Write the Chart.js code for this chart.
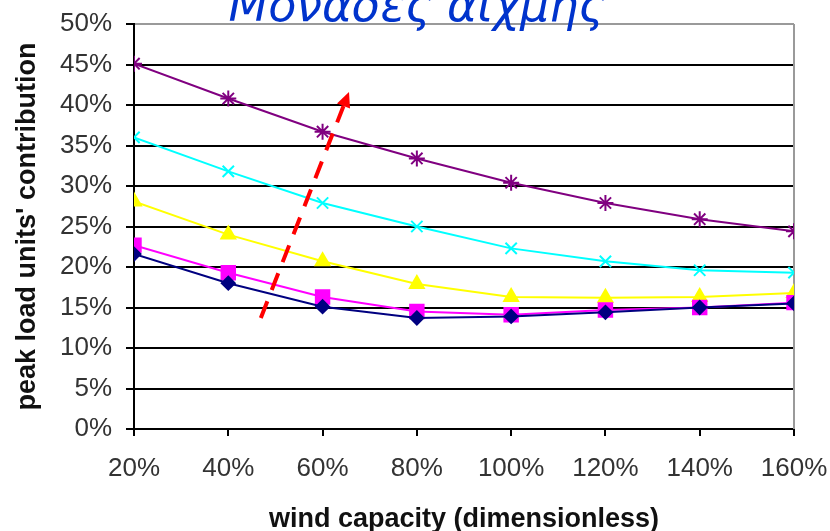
<!DOCTYPE html>
<html>
<head>
<meta charset="utf-8">
<script src="https://cdn.jsdelivr.net/npm/chart.js@4.4.1/dist/chart.umd.min.js"></script>
<style>
  body { margin: 0; background: #fff; }
  #wrap { width: 830px; height: 531px; }
</style>
</head>
<body>
<div id="wrap"><canvas id="peak" width="830" height="531"></canvas></div>
<script>
// wind capacity (% of ...), x axis
const windCapacity = [20, 40, 60, 80, 100, 120, 140, 160];

// peak load units' contribution (%), one array per curve
const seriesNavy = [21.6, 18.0, 15.1, 13.7, 13.9, 14.4, 15.0, 15.5];
const seriesMagenta = [22.7, 19.3, 16.3, 14.5, 14.1, 14.7, 15.0, 15.6];
const seriesYellow = [28.1, 24.0, 20.7, 17.9, 16.3, 16.2, 16.3, 16.8];
const seriesCyan = [36.0, 31.8, 27.9, 25.0, 22.3, 20.7, 19.6, 19.3];
const seriesPurple = [45.1, 40.8, 36.7, 33.4, 30.4, 27.9, 25.9, 24.4];

// red dashed arrow, in data units [wind %, contribution %]
const arrowFrom = [46.9, 13.7];
const arrowTo = [65.6, 41.6];

const titleText = "Μονάδες αιχμής";

function pts(values) {
  return windCapacity.map((x, i) => ({ x: x, y: values[i] }));
}

function line(label, values, color, style, radius) {
  return {
    label: label,
    data: pts(values),
    borderColor: color,
    backgroundColor: color,
    borderWidth: 2,
    pointStyle: style,
    pointRadius: radius,
    pointBorderColor: color,
    pointBackgroundColor: color,
    pointBorderWidth: 2,
    tension: 0,
  };
}

const frame = {
  id: "frame",
  beforeDatasetsDraw(chart) {
    const { ctx, chartArea } = chart;
    ctx.save();
    ctx.strokeStyle = "#9a9a9a";
    ctx.lineWidth = 2;
    ctx.beginPath();
    ctx.moveTo(chartArea.right, chartArea.top);
    ctx.lineTo(chartArea.right, chartArea.bottom);
    ctx.stroke();
    ctx.restore();
  },
  afterDatasetsDraw(chart) {
    const { ctx } = chart;
    const xs = chart.scales.x, ys = chart.scales.y;
    const x0 = xs.getPixelForValue(arrowFrom[0]), y0 = ys.getPixelForValue(arrowFrom[1]);
    const x1 = xs.getPixelForValue(arrowTo[0]), y1 = ys.getPixelForValue(arrowTo[1]);
    const ang = Math.atan2(y1 - y0, x1 - x0);
    const head = 15;
    const bx = x1 - Math.cos(ang) * head, by = y1 - Math.sin(ang) * head;
    ctx.save();
    ctx.strokeStyle = "#ff0000";
    ctx.fillStyle = "#ff0000";
    ctx.lineWidth = 4;
    ctx.setLineDash([18, 12]);
    ctx.beginPath();
    ctx.moveTo(x0, y0);
    ctx.lineTo(bx, by);
    ctx.stroke();
    ctx.setLineDash([]);
    ctx.beginPath();
    ctx.moveTo(x1, y1);
    ctx.lineTo(bx + Math.sin(ang) * 7, by - Math.cos(ang) * 7);
    ctx.lineTo(bx - Math.sin(ang) * 7, by + Math.cos(ang) * 7);
    ctx.closePath();
    ctx.fill();
    ctx.restore();
  },
  afterDraw(chart) {
    const ctx = chart.ctx;
    ctx.save();
    let size = 40;
    ctx.font = "italic " + size + "px 'DejaVu Sans'";
    size = size * 377 / ctx.measureText(titleText).width;
    ctx.font = "italic " + size + "px 'DejaVu Sans'";
    ctx.fillStyle = "#0033cc";
    ctx.textAlign = "center";
    ctx.textBaseline = "alphabetic";
    ctx.fillText(titleText, 417, 21);
    ctx.restore();
  },
};

const tickFont = { family: "'Liberation Sans', Arial", size: 26 };
const titleFont = { family: "'Liberation Sans', Arial", size: 27, weight: "bold", lineHeight: 1 };

new Chart(document.getElementById("peak"), {
  type: "line",
  data: {
    datasets: [
      line("navy", seriesNavy, "#000080", "rectRot", 6.5),
      line("magenta", seriesMagenta, "#ff00ff", "rect", 9.5),
      line("yellow", seriesYellow, "#ffff00", "triangle", 8),
      line("cyan", seriesCyan, "#00ffff", "crossRot", 8),
      line("purple", seriesPurple, "#800080", "star", 8),
    ],
  },
  options: {
    responsive: false,
    animation: false,
    layout: { padding: { top: 24, right: 36, left: 0, bottom: 0 } },
    plugins: {
      legend: { display: false },
      tooltip: { enabled: false },
    },
    scales: {
      x: {
        type: "linear",
        min: 20,
        max: 160,
        afterFit: (s) => {
          s.height = 102;
          s.paddingLeft = 0;
          s.paddingRight = 0;
        },
        ticks: {
          stepSize: 20,
          color: "#333",
          font: tickFont,
          padding: 17,
          maxRotation: 0,
          callback: (v) => v + "%",
        },
        grid: {
          drawOnChartArea: false,
          drawTicks: true,
          tickLength: 7,
          color: "#000",
          lineWidth: 2,
        },
        border: { color: "#000", width: 2 },
        title: {
          display: true,
          text: "wind capacity (dimensionless)",
          color: "#111",
          font: titleFont,
          padding: { top: 10, bottom: -2 },
        },
      },
      y: {
        min: 0,
        max: 50,
        afterFit: (s) => {
          s.width = 134;
          s.paddingTop = 0;
          s.paddingBottom = 0;
        },
        ticks: {
          stepSize: 5,
          color: "#333",
          font: tickFont,
          padding: 14,
          callback: (v) => v + "%",
        },
        grid: {
          color: (c) => (c.tick && c.tick.value === 50 ? "#9a9a9a" : "#000"),
          tickColor: "#000",
          lineWidth: 2,
          tickLength: 8,
        },
        border: { color: "#000", width: 2 },
        title: {
          display: true,
          text: "peak load units' contribution",
          color: "#111",
          font: titleFont,
          padding: { top: 14, bottom: 0 },
        },
      },
    },
  },
  plugins: [frame],
});
</script>
</body>
</html>
